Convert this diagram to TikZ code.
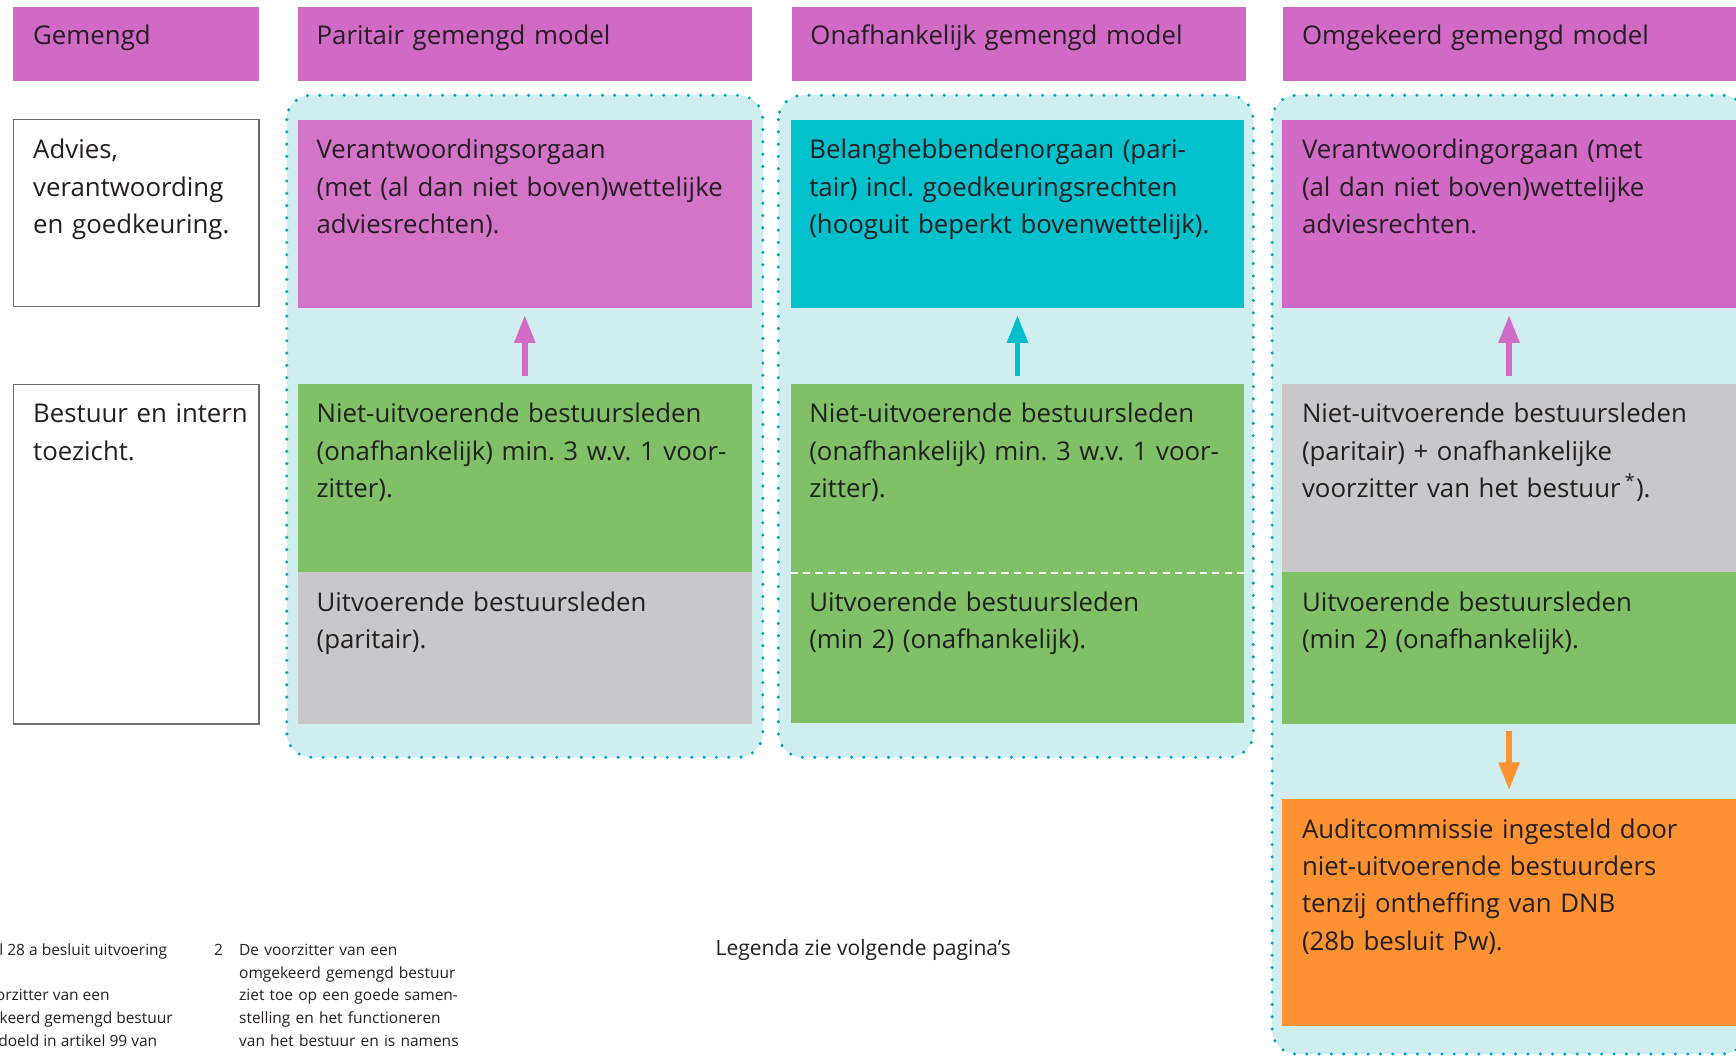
\documentclass[tikz,border=0pt]{standalone}
\usepackage{fontspec}
\setmainfont{Open Sans}
\usetikzlibrary{arrows.meta}
\frenchspacing
\definecolor{hdrpink}{HTML}{D06AC6}
\definecolor{pinkA}{HTML}{D474C8}
\definecolor{pinkB}{HTML}{D06AC6}
\definecolor{cyanbox}{HTML}{00C1CC}
\definecolor{regionfill}{HTML}{D0EEF0}
\definecolor{dotcol}{HTML}{00A8BE}
\definecolor{greenbox}{HTML}{80C167}
\definecolor{graybox}{HTML}{C8C8CA}
\definecolor{orangebox}{HTML}{FE9232}
\definecolor{ink}{HTML}{231F20}
\definecolor{bordergray}{HTML}{6D6E70}
\definecolor{arrpink}{HTML}{D36CC8}
\definecolor{arrcyan}{HTML}{00BFCC}
\newcommand\mybodyfont{\fontsize{11.65pt}{16.85pt}\selectfont\frenchspacing}
\newcommand\mynotefont{\fontsize{7pt}{10.25pt}\selectfont\frenchspacing}
\newcommand\mylegfont{\fontsize{9.5pt}{12pt}\selectfont}
\tikzset{
  blk/.style={rectangle, inner sep=0pt, outer sep=0pt, anchor=north west, minimum width=205pt},
  hdr/.style={blk, fill=hdrpink, minimum height=33.5pt},
  txt/.style={anchor=base west, inner sep=0pt, outer sep=0pt, text width=200pt, align=left, text=ink, font=\mybodyfont},
  notetxt/.style={anchor=base west, inner sep=0pt, outer sep=0pt, text width=120pt, align=left, text=ink, font=\mynotefont},
  cuttxt/.style={anchor=base east, inner sep=0pt, outer sep=0pt, text=ink, font=\mynotefont},
  dotregion/.style={fill=regionfill, draw=dotcol, line width=1.55pt, dash pattern=on 0pt off 5.55pt, line cap=round, rounded corners=11pt},
  arrowup/.style={-{Triangle[length=12.5pt,width=9pt]}, line width=2.5pt, shorten <=3.5pt, shorten >=3.3pt},
  labelbox/.style={blk, draw=bordergray, line width=0.6pt, fill=white, minimum width=111pt}
}
\begin{document}
\begin{tikzpicture}[x=0.5pt,y=-0.5pt]
\useasboundingbox (0,0) rectangle (1568,954);
\clip (0,0) rectangle (1568,954);
% dotted regions
\path[dotregion] (259,86) rectangle (689,684);
\path[dotregion] (703,86) rectangle (1132,684);
\path[dotregion] (1149,86) rectangle (1578,952);
% headers
\node[hdr, minimum width=111pt] (h0) at (12,6) {};
\node[hdr] (h1) at (269,6) {};
\node[hdr] (h2) at (715,6) {};
\node[hdr] (h3) at (1159,6) {};
\node[txt] (h0t) at ([shift={(9pt,-17pt)}]h0.north west) {Gemengd};
\node[txt] (h1t) at ([shift={(8.5pt,-17pt)}]h1.north west) {Paritair gemengd model};
\node[txt] (h2t) at ([shift={(8.5pt,-17pt)}]h2.north west) {Onafhankelijk gemengd model};
\node[txt] (h3t) at ([shift={(8.5pt,-17pt)}]h3.north west) {Omgekeerd gemengd model};
% row labels
\node[labelbox, minimum height=84.5pt] (la) at (12,108) {};
\node[labelbox, minimum height=153.5pt] (lb) at (12,347) {};
\node[txt] (lat) at ([shift={(9pt,-17.75pt)}]la.north west) {Advies,\\verantwoording\\en goedkeuring.};
\node[txt] (lbt) at ([shift={(9pt,-17.5pt)}]lb.north west) {Bestuur en intern\\toezicht.};
% column 1
\node[blk, fill=pinkA, minimum height=85pt] (p1) at (269,108) {};
\node[blk, fill=greenbox, minimum height=85pt] (g1) at (269,347) {};
\node[blk, fill=graybox, minimum height=68.5pt] (u1) at (269,517) {};
\node[txt] (p1t) at ([shift={(8.5pt,-17.75pt)}]p1.north west) {Verantwoordingsorgaan\\(met (al dan niet boven)wettelijke\\adviesrechten).};
\node[txt] (g1t) at ([shift={(8.5pt,-17.5pt)}]g1.north west) {Niet-uitvoerende bestuursleden\\(onafhankelijk) min. 3 w.v. 1 voor-\\zitter).};
\node[txt] (u1t) at ([shift={(8.5pt,-17.5pt)}]u1.north west) {Uitvoerende bestuursleden\\(paritair).};
\draw[arrowup, draw=arrpink] (g1.north) -- (p1.south);
% column 2
\node[blk, fill=cyanbox, minimum height=85pt] (p2) at (714,108) {};
\node[blk, fill=greenbox, minimum height=85.25pt] (g2) at (714,347) {};
\node[blk, fill=greenbox, minimum height=67.75pt] (u2) at (714,517.5) {};
\draw[white, line width=0.9pt, dash pattern=on 3.3pt off 2.3pt] (u2.north west) -- (u2.north east);
\node[txt] (p2t) at ([shift={(8.5pt,-17.75pt)}]p2.north west) {Belanghebbendenorgaan (pari-\\tair) incl. goedkeuringsrechten\\(hooguit beperkt bovenwettelijk).};
\node[txt] (g2t) at ([shift={(8.5pt,-17.5pt)}]g2.north west) {Niet-uitvoerende bestuursleden\\(onafhankelijk) min. 3 w.v. 1 voor-\\zitter).};
\node[txt] (u2t) at ([shift={(8.5pt,-17.25pt)}]u2.north west) {Uitvoerende bestuursleden\\(min 2) (onafhankelijk).};
\draw[arrowup, draw=arrcyan] (g2.north) -- (p2.south);
% column 3
\node[blk, fill=pinkB, minimum height=85pt] (p3) at (1158,108) {};
\node[blk, fill=graybox, minimum height=85pt] (g3) at (1158,347) {};
\node[blk, fill=greenbox, minimum height=68.5pt] (u3) at (1158,517) {};
\node[blk, fill=orangebox, minimum height=102.5pt] (o3) at (1158,722) {};
\node[txt] (p3t) at ([shift={(9pt,-17.75pt)}]p3.north west) {Verantwoordingorgaan (met\\(al dan niet boven)wettelijke\\adviesrechten.};
\node[txt] (g3t) at ([shift={(9pt,-17.5pt)}]g3.north west) {Niet-uitvoerende bestuursleden\\(paritair) + onafhankelijke\\voorzitter van het bestuur\,\textsuperscript{*}).};
\node[txt] (u3t) at ([shift={(9pt,-17.5pt)}]u3.north west) {Uitvoerende bestuursleden\\(min 2) (onafhankelijk).};
\node[txt] (o3t) at ([shift={(9pt,-17.5pt)}]o3.north west) {Auditcommissie ingesteld door\\niet-uitvoerende bestuurders\\tenzij ontheffing van DNB\\(28b besluit Pw).};
\draw[arrowup, draw=arrpink] (g3.north) -- (p3.south);
\draw[arrowup, draw=orangebox, shorten <=3pt, shorten >=4.2pt] (u3.south) -- (o3.north);
% footnotes
\node[cuttxt] (fa) at (151,863) {l 28 a besluit uitvoering};
\node[cuttxt] (fb) at (99,904) {orzitter van een};
\node[cuttxt] (fc) at (156,924) {keerd gemengd bestuur};
\node[cuttxt] (fd) at (142,945) {doeld in artikel 99 van};
\node[anchor=base west, inner sep=0pt, text=ink, font=\mynotefont] (fn2) at (193,863) {2};
\node[notetxt] (fn2t) at (216,863) {De voorzitter van een\\omgekeerd gemengd bestuur\\ziet toe op een goede samen-\\stelling en het functioneren\\van het bestuur en is namens};
\node[anchor=base west, inner sep=0pt, text=ink, font=\mylegfont] (leg) at (646,863) {Legenda zie volgende pagina’s};
\end{tikzpicture}
\end{document}
